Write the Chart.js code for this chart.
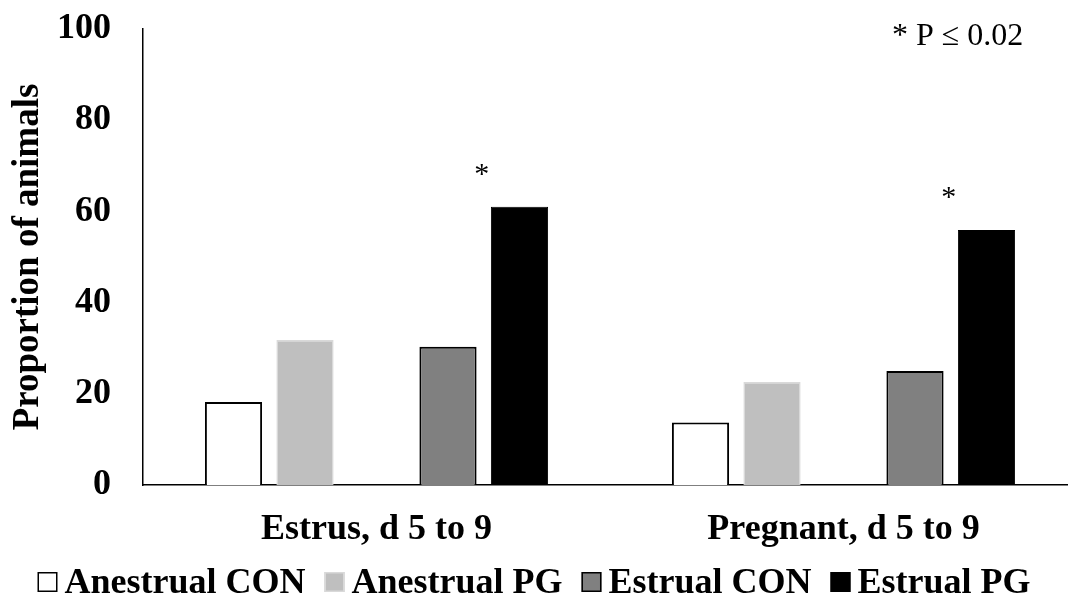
<!DOCTYPE html>
<html>
<head>
<meta charset="utf-8">
<script src="https://cdn.jsdelivr.net/npm/chart.js@4.4.1/dist/chart.umd.min.js"></script>
<style>
  html, body { margin: 0; padding: 0; background: #fff; overflow: hidden; }
  #wrap { width: 1080px; height: 607px; }
</style>
</head>
<body>
<div id="wrap"><canvas id="myChart" width="1080" height="607"></canvas></div>
<script>
const categories = ["Estrus, d 5 to 9", "Pregnant, d 5 to 9"];
const anestrualCon = [18.2, 13.7];
const anestrualPg = [31.8, 22.6];
const estrualCon = [30.3, 25.0];
const estrualPg = [61.0, 55.9];
const yTicks = [0, 20, 40, 60, 80, 100];
const starred = [true, true]; // Estrual PG differs, P <= 0.02
const noteText = "* P \u2264 0.02";

const serif = "'Liberation Serif', 'Times New Roman', serif";

// custom legend: small square + bold label, tight spacing like the original
const legendPlugin = {
    id: "boxLegend",
    afterDraw(chart) {
        const ctx = chart.ctx;
        const items = chart.data.datasets.filter(d => d.label);
        ctx.save();
        ctx.font = "bold 36px " + serif;
        const box = 20, gapText = 7, gapItem = 19;
        let total = 0;
        items.forEach((d, i) => {
            total += box + gapText + ctx.measureText(d.label).width;
            if (i < items.length - 1) total += gapItem;
        });
        let x = window.innerWidth / 2 - total / 2;
        const baseline = 593;
        items.forEach(d => {
            const by = baseline - 21;
            ctx.fillStyle = d.backgroundColor;
            ctx.fillRect(x, by, box, box);
            ctx.lineWidth = 1.5;
            ctx.strokeStyle = d.borderColor;
            ctx.strokeRect(x + 0.75, by + 0.75, box - 1.5, box - 1.5);
            x += box + gapText;
            ctx.fillStyle = "#000";
            ctx.textBaseline = "alphabetic";
            ctx.textAlign = "left";
            ctx.fillText(d.label, x, baseline);
            x += ctx.measureText(d.label).width + gapItem;
        });
        ctx.restore();
    }
};

// significance stars above the Estrual PG pair and the P note
const starPlugin = {
    id: "stars",
    afterDatasetsDraw(chart) {
        const ctx = chart.ctx;
        const conMeta = chart.getDatasetMeta(3);
        const pgMeta = chart.getDatasetMeta(4);
        ctx.save();
        ctx.fillStyle = "#000";
        ctx.textAlign = "center";
        ctx.textBaseline = "alphabetic";
        ctx.font = "30px " + serif;
        starred.forEach((s, i) => {
            if (!s) return;
            const pg = pgMeta.data[i];
            const con = conMeta.data[i];
            ctx.fillText("*", (pg.x + con.x) / 2 - 2, pg.y - 24);
        });
        ctx.font = "32px " + serif;
        ctx.textAlign = "left";
        ctx.fillText(noteText, 892, 45);
        ctx.restore();
    }
};

const ctx = document.getElementById("myChart").getContext("2d");
new Chart(ctx, {
    type: "bar",
    data: {
        labels: categories,
        datasets: [
            {
                label: "Anestrual CON",
                data: anestrualCon,
                backgroundColor: "#ffffff",
                borderColor: "#000000",
                borderWidth: 2
            },
            {
                label: "Anestrual PG",
                data: anestrualPg,
                backgroundColor: "#bfbfbf",
                borderColor: "#d9d9d9",
                borderWidth: 1.5
            },
            {
                label: "",
                data: [null, null],
                backgroundColor: "rgba(0,0,0,0)"
            },
            {
                label: "Estrual CON",
                data: estrualCon,
                backgroundColor: "#808080",
                borderColor: "#000000",
                borderWidth: 2
            },
            {
                label: "Estrual PG",
                data: estrualPg,
                backgroundColor: "#000000",
                borderColor: "#000000",
                borderWidth: 1
            }
        ]
    },
    options: {
        responsive: false,
        animation: false,
        layout: { padding: { top: 29, right: 3, bottom: 0, left: 0 } },
        datasets: {
            bar: { categoryPercentage: 0.7655, barPercentage: 0.8 }
        },
        plugins: {
            legend: { display: false },
            tooltip: { enabled: false }
        },
        scales: {
            x: {
                grid: { display: false },
                border: { display: true, color: "#000", width: 1.5 },
                ticks: {
                    color: "#000",
                    padding: 15,
                    font: { family: serif, size: 36, weight: "bold" }
                },
                afterFit(scale) { scale.height = 122; }
            },
            y: {
                min: 0,
                max: 100,
                grid: { display: false },
                border: { display: true, color: "#000", width: 1.5 },
                afterBuildTicks(scale) { scale.ticks = yTicks.map(v => ({ value: v })); },
                ticks: {
                    color: "#000",
                    padding: 24,
                    // tiny lineHeight keeps the label overhang from pushing the plot down
                    font: { family: serif, size: 36, weight: "bold", lineHeight: 0.1 }
                },
                title: {
                    display: true,
                    text: "Proportion of animals",
                    color: "#000",
                    padding: { top: 6, bottom: 0 },
                    font: { family: serif, size: 37, weight: "bold" }
                },
                afterFit(scale) { scale.width = 143; }
            }
        }
    },
    plugins: [starPlugin, legendPlugin]
});
</script>
</body>
</html>
